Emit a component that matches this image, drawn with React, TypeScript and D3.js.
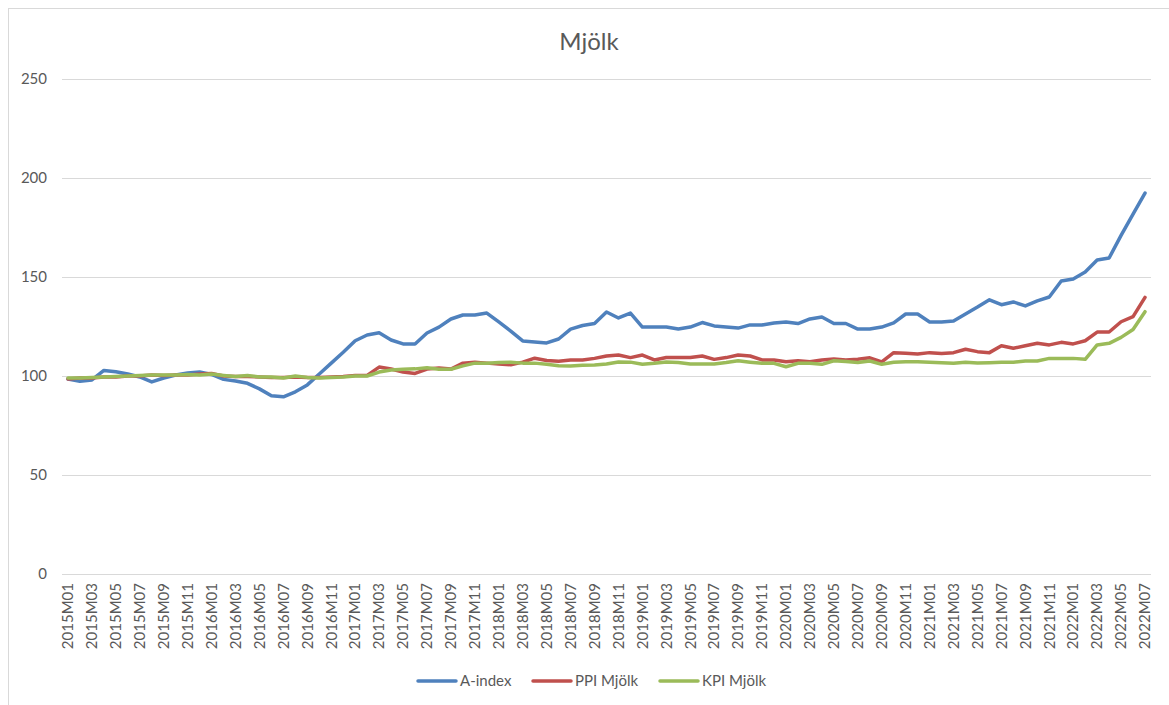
import React, { useRef, useEffect } from "react";
import * as d3 from "d3";

// 2015M01 .. 2022M07
const months: string[] = [];
for (let y = 2015; y <= 2022; y++) {
  for (let m = 1; m <= 12; m++) {
    if (y === 2022 && m > 7) break;
    months.push(`${y}M${String(m).padStart(2, "0")}`);
  }
}

const aIndex = [
  98.5, 97.3, 98, 102.8, 102.1, 101, 99.5, 97, 99, 100.5, 101.5, 102,
  100.8, 98.3, 97.5, 96.3, 93.5, 90, 89.5, 92, 95.5, 101, 106.5, 112,
  117.8, 120.7, 121.8, 118.2, 116.2, 116.2, 121.7, 124.7, 128.8, 130.8, 130.8, 131.8,
  127.3, 122.7, 117.7, 117.2, 116.7, 118.7, 123.7, 125.5, 126.5, 132.3, 129.3, 131.8,
  124.7, 124.7, 124.7, 123.7, 124.7, 127, 125.3, 124.7, 124.2, 125.8, 125.8, 126.8,
  127.3, 126.5, 128.8, 129.8, 126.5, 126.5, 123.7, 123.7, 124.7, 126.8, 131.3, 131.3,
  127.3, 127.3, 127.8, 131.3, 134.8, 138.5, 136, 137.4, 135.4, 137.9, 139.9, 148,
  149, 152.5, 158.6, 159.6, 171, 181.8, 192.4,
];

const ppiMjolk = [
  98.5, 99, 99, 99.5, 99.5, 100, 100, 100.5, 100.3, 100.5, 100.5, 101,
  101.3, 100, 99.8, 99.8, 99.5, 99.3, 99.2, 99.5, 99.3, 99.2, 99.5, 99.8,
  100.3, 100.3, 104.5, 103.5, 102, 101.3, 103.5, 104, 103.5, 106.5, 107, 106.5,
  106, 105.7, 107, 109, 107.8, 107.5, 108.1, 108.1, 108.9, 110.1, 110.6, 109.3,
  110.6, 108.1, 109.3, 109.4, 109.3, 110.1, 108.4, 109.3, 110.6, 110.1, 108.1, 108.1,
  107.2, 107.7, 107.2, 108.1, 108.6, 108.1, 108.5, 109.2, 107.1, 111.8, 111.5, 111.1,
  111.8, 111.4, 111.8, 113.5, 112.3, 111.8, 115.3, 114, 115.3, 116.5, 115.7, 117,
  116.2, 117.8, 122.2, 122.2, 127.4, 130, 139.7,
];

const kpiMjolk = [
  99, 99, 99.3, 99.5, 99.7, 100, 100.3, 100.5, 100.5, 100.5, 100.8, 100.5,
  101, 100.3, 99.7, 100.2, 99.5, 99.5, 99, 100, 99.3, 99, 99.2, 99.5,
  100, 100, 102, 103, 103.4, 103.6, 104.2, 103.4, 103.4, 105.1, 106.5, 106.5,
  106.8, 107, 106.5, 106.5, 105.9, 105.2, 105.1, 105.4, 105.6, 106.1, 107.1, 107,
  105.9, 106.4, 107.1, 106.8, 106.1, 106.1, 106.1, 106.8, 107.7, 107, 106.4, 106.4,
  104.7, 106.4, 106.4, 105.9, 107.7, 107.3, 106.8, 107.6, 105.9, 106.9, 107.2, 107.2,
  106.9, 106.7, 106.4, 106.9, 106.6, 106.7, 106.9, 106.9, 107.6, 107.6, 108.9, 108.9,
  108.9, 108.4, 115.7, 116.5, 119.5, 123.5, 132.5,
];

const seriesNames = ["A-index", "PPI Mjölk", "KPI Mjölk"];
const seriesColors = ["#4f81bd", "#c0504d", "#9bbb59"];
const yTicks = [0, 50, 100, 150, 200, 250];

const W = 1169;
const H = 705;
const FONT = "Lato, 'Open Sans', sans-serif";

export default function App() {
  const svgRef = useRef<SVGSVGElement>(null);

  useEffect(() => {
    if (!svgRef.current) return;
    const svg = d3.select(svgRef.current);
    svg.selectAll("*").remove();

    const left = 62;
    const right = 1151;
    const top = 79;
    const bottom = 574;

    // chart frame
    svg
      .append("rect")
      .attr("x", 8.5)
      .attr("y", 8.5)
      .attr("width", W + 20)
      .attr("height", H + 20)
      .attr("fill", "#fff")
      .attr("stroke", "#d9d9d9");

    svg
      .append("text")
      .attr("x", 589)
      .attr("y", 50)
      .attr("text-anchor", "middle")
      .attr("font-family", FONT)
      .attr("font-size", "24px")
      .attr("fill", "#595959")
      .text("Mjölk");

    const x = d3.scalePoint<string>().domain(months).range([left, right]).padding(0.5);
    const y = d3.scaleLinear().domain([0, 250]).range([bottom, top]);

    const grid = svg.append("g");
    yTicks.forEach((t) => {
      grid
        .append("line")
        .attr("x1", left)
        .attr("x2", right)
        .attr("y1", Math.round(y(t)) + 0.5)
        .attr("y2", Math.round(y(t)) + 0.5)
        .attr("stroke", "#d9d9d9")
        .attr("stroke-width", 1);
      grid
        .append("text")
        .attr("x", 47)
        .attr("y", y(t))
        .attr("dy", "0.35em")
        .attr("text-anchor", "end")
        .attr("font-family", FONT)
        .attr("font-size", "15px")
        .attr("fill", "#595959")
        .text(t);
    });

    const xl = svg.append("g");
    months.forEach((m, i) => {
      if (i % 2 !== 0) return;
      const px = x(m)!;
      xl.append("text")
        .attr("transform", `translate(${px},${bottom + 9}) rotate(-90)`)
        .attr("dy", "0.35em")
        .attr("text-anchor", "end")
        .attr("font-family", FONT)
        .attr("font-size", "15px")
        .attr("fill", "#595959")
        .text(m);
    });

    const line = d3
      .line<number>()
      .x((_, i) => x(months[i])!)
      .y((d) => y(d));

    [aIndex, ppiMjolk, kpiMjolk].forEach((s, k) => {
      svg
        .append("path")
        .datum(s)
        .attr("d", line)
        .attr("fill", "none")
        .attr("stroke", seriesColors[k])
        .attr("stroke-width", 3.5)
        .attr("stroke-linejoin", "round")
        .attr("stroke-linecap", "round");
    });

    // legend
    const legendX = [418, 533, 660];
    const lg = svg.append("g");
    seriesNames.forEach((name, k) => {
      lg.append("line")
        .attr("x1", legendX[k])
        .attr("x2", legendX[k] + 38)
        .attr("y1", 681)
        .attr("y2", 681)
        .attr("stroke", seriesColors[k])
        .attr("stroke-width", 3.5)
        .attr("stroke-linecap", "round");
      lg.append("text")
        .attr("x", legendX[k] + 42)
        .attr("y", 681)
        .attr("dy", "0.35em")
        .attr("font-family", FONT)
        .attr("font-size", "15px")
        .attr("fill", "#595959")
        .text(name);
    });
  }, []);

  return (
    <svg
      ref={svgRef}
      width={W}
      height={H}
      style={{ position: "absolute", left: 0, top: 0 }}
    />
  );
}
